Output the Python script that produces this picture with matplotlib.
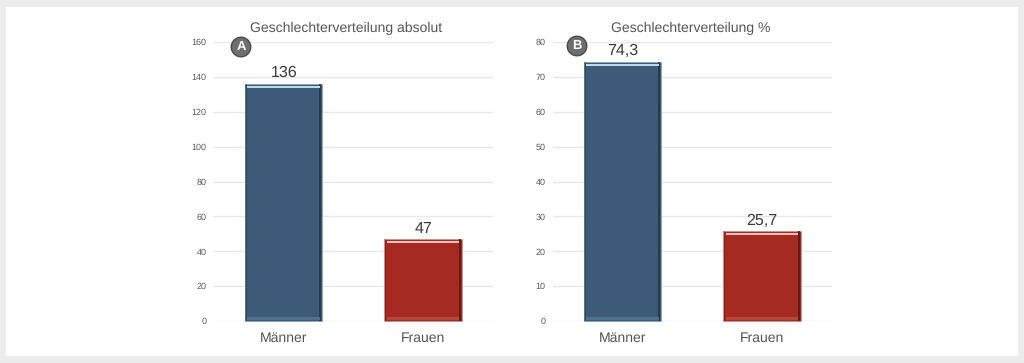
import matplotlib
matplotlib.use('Agg')
import matplotlib.pyplot as plt
from matplotlib.patches import Rectangle

plt.rcParams['font.family'] = ['Liberation Sans', 'DejaVu Sans']
plt.rcParams['text.hinting'] = 'none'
plt.rcParams['text.hinting_factor'] = 1

categories = ['Männer', 'Frauen']
values_abs = [136, 47]
values_pct = [74.3, 25.7]
labels_abs = ['136', '47']
labels_pct = ['74,3', '25,7']
titles = ['Geschlechterverteilung absolut', 'Geschlechterverteilung %']
badges = ['A', 'B']
ticks_abs = [0, 20, 40, 60, 80, 100, 120, 140, 160]
ticks_pct = [0, 10, 20, 30, 40, 50, 60, 70, 80]

W, H = 1024, 363
BAR_W = 0.555
fills = ['#3d5a78', '#a52a22']
darks = ['#1f3548', '#5c1512']
lights = ['#bcdcea', '#eec2bc']
bottoms = ['#4f7189', '#b8443c']
rims = ['#8ea6b6', '#c29690']

fig = plt.figure(figsize=(W / 100, H / 100), dpi=100, facecolor='#ececec')
fig.add_artist(Rectangle((6 / W, 1 - 356 / H), 1012 / W, 349 / H, transform=fig.transFigure,
                         fc='white', ec='none', zorder=-5))


def draw_panel(left, values, labels, ticks, title, title_x, badge, badge_xy):
	ax = fig.add_axes([left / W, 1 - 321 / H, 279 / W, 279 / H])
	ax.patch.set_alpha(0)
	ymax = ticks[-1]
	ax.set_xlim(-0.5, 1.5)
	ax.set_ylim(0, ymax)
	px_x = 2.0 / 279
	px_y = ymax / 279

	ax.set_yticks(ticks)
	ax.set_xticks(range(len(categories)))
	ax.set_xticklabels(categories, fontsize=10.3, color='#555555')
	ax.tick_params(axis='y', length=0, labelsize=6.8, labelcolor='#595959', pad=5.5)
	ax.tick_params(axis='x', length=0, pad=8)
	ax.grid(axis='y', color='#e8e8e8', lw=1)
	ax.set_axisbelow(True)
	for s in ax.spines.values():
		s.set_visible(False)

	bars = ax.bar([i - 0.003 for i in range(len(values))], values, width=BAR_W, color=fills, zorder=2,
	              edgecolor=rims, linewidth=0.6, clip_on=False)

	# bevel on each bar
	for i, b in enumerate(bars):
		x0, w, h = b.get_x(), b.get_width(), b.get_height()
		ax.add_patch(Rectangle((x0 + w - 3 * px_x, 0), 2.2 * px_x, h, fc=darks[i], ec='none', alpha=0.85, zorder=3))
		ax.add_patch(Rectangle((x0 + 0.6 * px_x, 0), 1.6 * px_x, h, fc=darks[i], ec='none', alpha=0.45, zorder=3))
		ax.add_patch(Rectangle((x0 + 2.5 * px_x, h - 4 * px_y), w - 5 * px_x, 2 * px_y, fc=lights[i], ec='none', zorder=4))
		ax.add_patch(Rectangle((x0 + 2.5 * px_x, 1 * px_y), w - 5 * px_x, 3 * px_y, fc=bottoms[i], ec='none', zorder=4))
		ax.annotate(labels[i], (i, h), xytext=(0, 2.3), textcoords='offset points', ha='center', va='bottom',
		            fontsize=11.6, color='#3a3a3a', zorder=5)

	ax.set_title(title, fontsize=10.4, color='#555555', pad=6.8, x=title_x)
	fig.text(badge_xy[0] / W, 1 - badge_xy[1] / H, badge, ha='center', va='center', fontsize=9.5,
	         fontweight='bold', color='white', zorder=10,
	         bbox=dict(boxstyle='circle,pad=0.28', fc='#6e6e6e', ec='#4a4a4a', lw=1))


draw_panel(214, values_abs, labels_abs, ticks_abs, titles[0], 0.473, badges[0], (241, 47))
draw_panel(553, values_pct, labels_pct, ticks_pct, titles[1], 0.493, badges[1], (577, 46))

fig.savefig('out.png', dpi=100, facecolor=fig.get_facecolor())
